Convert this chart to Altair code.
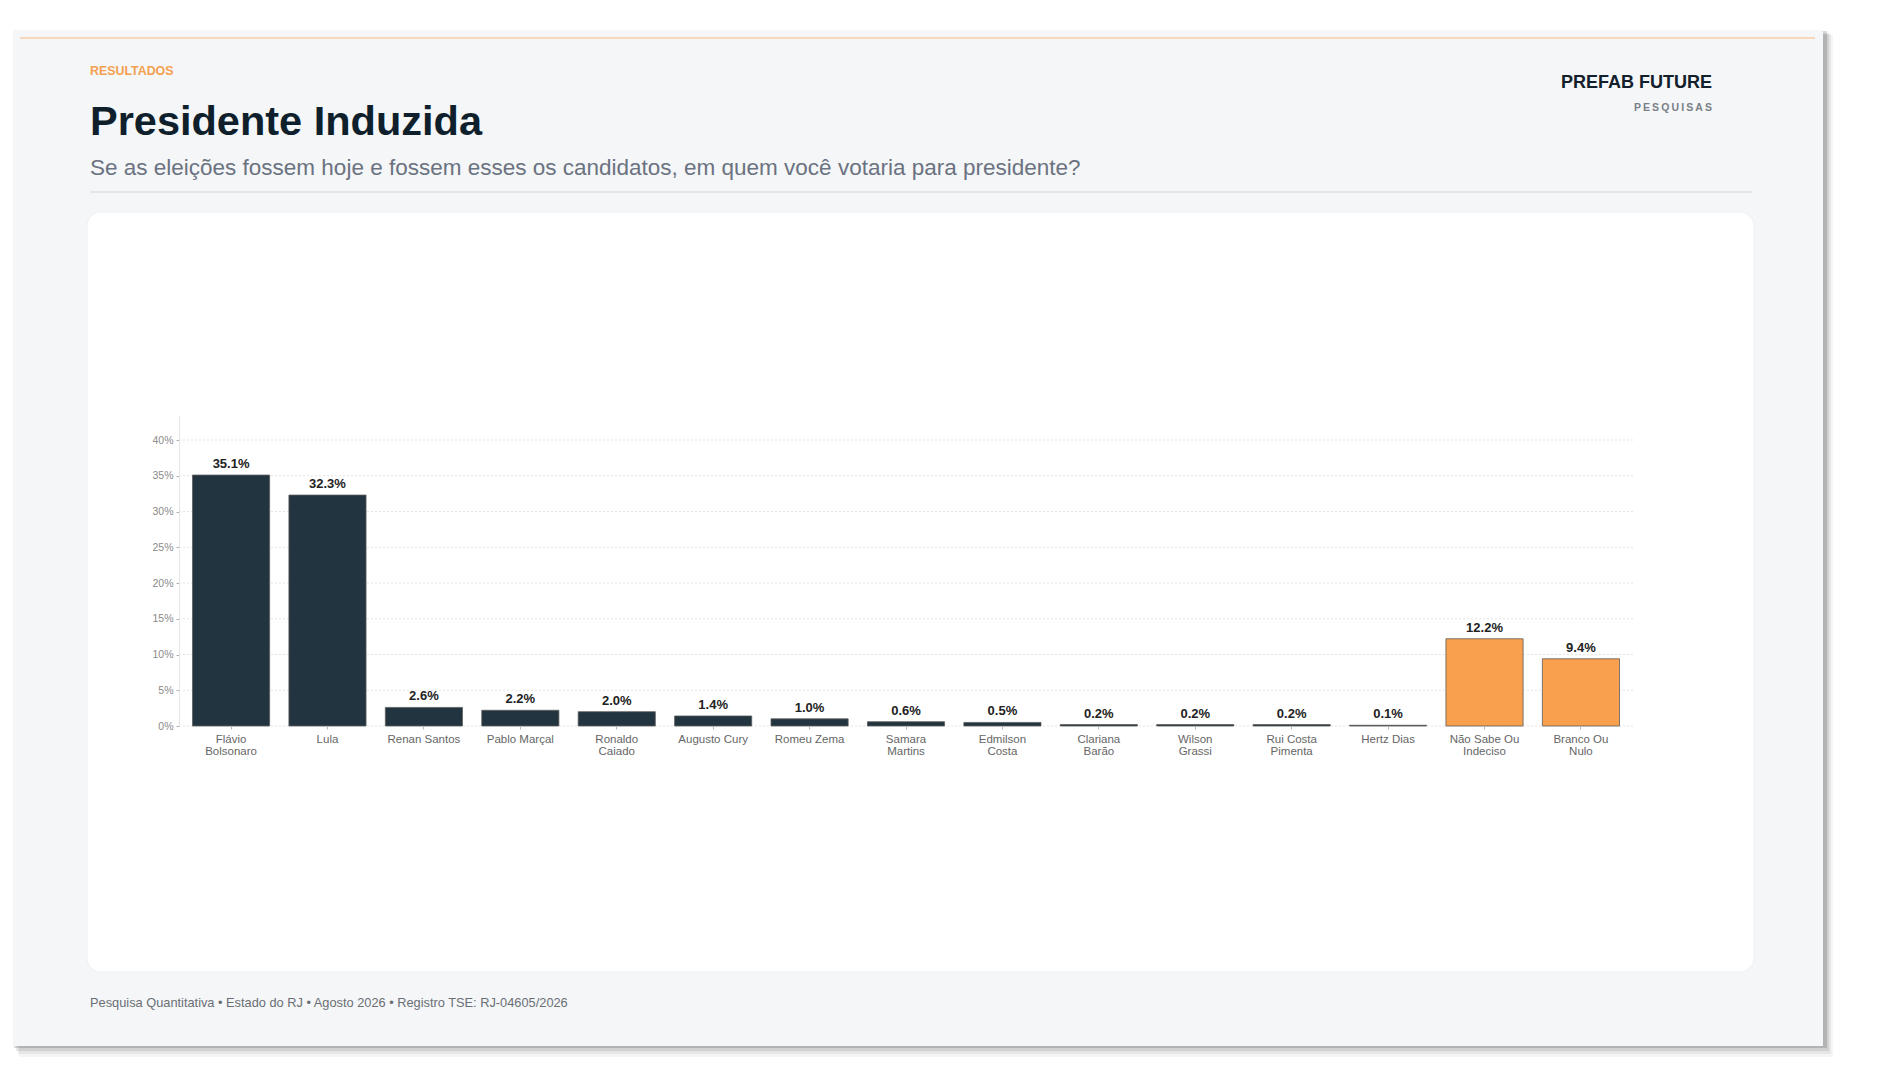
import altair as alt
import pandas as pd

# ---- data ----
candidates = [
    "Flávio\nBolsonaro", "Lula", "Renan Santos", "Pablo Marçal", "Ronaldo\nCaiado",
    "Augusto Cury", "Romeu Zema", "Samara\nMartins", "Edmilson\nCosta", "Clariana\nBarão",
    "Wilson\nGrassi", "Rui Costa\nPimenta", "Hertz Dias", "Não Sabe Ou\nIndeciso", "Branco Ou\nNulo",
]
values = [35.1, 32.3, 2.6, 2.2, 2.0, 1.4, 1.0, 0.6, 0.5, 0.2, 0.2, 0.2, 0.1, 12.2, 9.4]
groups = ["cand"] * 13 + ["other"] * 2
y_ticks = [0, 5, 10, 15, 20, 25, 30, 35, 40]

kicker = "RESULTADOS"
title = "Presidente Induzida"
subtitle = "Se as eleições fossem hoje e fossem esses os candidatos, em quem você votaria para presidente?"
brand = "PREFAB FUTURE"
brand_sub = "PESQUISAS"
footer = "Pesquisa Quantitativa • Estado do RJ • Agosto 2026 • Registro TSE: RJ-04605/2026"

df = pd.DataFrame({"cand": candidates, "value": values, "group": groups})
grid_df = pd.DataFrame({"value": y_ticks})

FONT = "Liberation Sans, Arial, Helvetica, sans-serif"
W, H = 1454, 311
one = alt.Data(values=[{"k": 1}])


def rect(x, x2, y, y2, fill, opacity=1.0, radius=0, stroke=None, sw=0):
    kw = dict(fill=fill, opacity=opacity, cornerRadius=radius)
    if stroke:
        kw.update(stroke=stroke, strokeWidth=sw)
    return alt.Chart(one).mark_rect(**kw).encode(
        x=alt.value(x), x2=alt.value(x2), y=alt.value(y), y2=alt.value(y2))


def hline(x, x2, y, color, width):
    return alt.Chart(one).mark_rule(color=color, strokeWidth=width).encode(
        x=alt.value(x), x2=alt.value(x2), y=alt.value(y))


def txt(s, x, y, size, color, weight="normal", align="left", baseline="alphabetic"):
    kw = dict(text=s, fontSize=size, color=color, fontWeight=weight, align=align,
              baseline=baseline, font=FONT)
    return alt.Chart(one).mark_text(**kw).encode(x=alt.value(x), y=alt.value(y))


# letter-spaced brand subtitle (thin spaces between letters)
brand_sub_spaced = "\u2009".join(brand_sub)

# card shadow (soft, layered)
shadow = [
    rect(-160, 1654, -380, 642, "#000000", 0.04),
    rect(-161, 1652, -381, 639, "#000000", 0.06),
    rect(-163, 1650, -382, 636, "#000000", 0.09),
    rect(-165, 1648, -384, 633, "#000000", 0.14),
]
deco = shadow + [
    rect(-166, 1644, -385, 631, "#f4f6f8"),
    hline(-159, 1636, -377, "#f8d7ba", 2),
    txt(kicker, -89, -344, 12.4, "#f5a04f", "bold", baseline="middle"),
    txt(title, -89, -280, 41.5, "#0f1f2b", "bold"),
    txt(subtitle, -89, -240, 22.5, "#6b7280"),
    txt(brand, 1533, -332, 18, "#13202b", "bold", align="right", baseline="middle"),
    txt(brand_sub_spaced, 1533, -307, 10.5, "#7a8088", "bold", align="right", baseline="middle"),
    hline(-89, 1573, -223, "#e2e5e9", 2),
    rect(-92, 1575, -203, 557, "#ffffff", 1.0, radius=14, stroke="#eef0f3", sw=1),
    txt(footer, -89, 588, 12.8, "#6b6f75", baseline="middle"),
]

xenc = alt.X(
    "cand:N", sort=candidates, title=None,
    scale=alt.Scale(paddingInner=0.2, paddingOuter=0.14),
    axis=alt.Axis(labelAngle=0, labelExpr="split(datum.label, '\\n')", labelFontSize=11.5,
                  labelColor="#666666", labelFont=FONT, labelLineHeight=12,
                  domain=False, ticks=True, tickSize=3, tickColor="#b5b5b5",
                  labelPadding=4, grid=False, zindex=1),
)
yscale = alt.Scale(domain=[0, 43.5], nice=False, zero=True)
yaxis = alt.Axis(values=y_ticks, tickCount=9, labelExpr="datum.value + '%'", labelFontSize=10.5,
                 labelColor="#8a8a8a", labelFont=FONT, domain=True,
                 domainColor="#e6e6e6", ticks=True, tickSize=3, tickColor="#b0b0b0",
                 labelPadding=3, grid=False, zindex=1, title=None,
                 labelOverlap=False, labelBound=False, labelFlush=False)

grid = alt.Chart(grid_df).mark_rule(color="#e4e4e4", strokeWidth=1, strokeDash=[2, 2]).encode(
    y=alt.Y("value:Q", scale=yscale, title=None)
)

bars = alt.Chart(df).mark_bar(stroke="#5c5c5c", strokeWidth=0.8).encode(
    x=xenc,
    y=alt.Y("value:Q", scale=yscale, title=None, axis=yaxis),
    color=alt.Color("group:N", scale=alt.Scale(domain=["cand", "other"],
                                               range=["#22343f", "#f9a04e"]), legend=None),
)

labels = alt.Chart(df).transform_calculate(
    lbl="format(datum.value, '.1f') + '%'"
).mark_text(fontSize=13, fontWeight="bold", color="#222222", dy=-7,
            baseline="alphabetic", font=FONT).encode(
    x=alt.X("cand:N", sort=candidates),
    y=alt.Y("value:Q", scale=yscale),
    text="lbl:N",
)

chart = alt.layer(*deco, grid, bars, labels).properties(
    width=W, height=H,
    autosize=alt.AutoSizeParams(type="none"),
    padding={"left": 171, "top": 407, "right": 241, "bottom": 346},
    background="#ffffff",
).configure_view(stroke=None)

chart.save("out.html", embed_options={"renderer": "svg", "actions": False})
